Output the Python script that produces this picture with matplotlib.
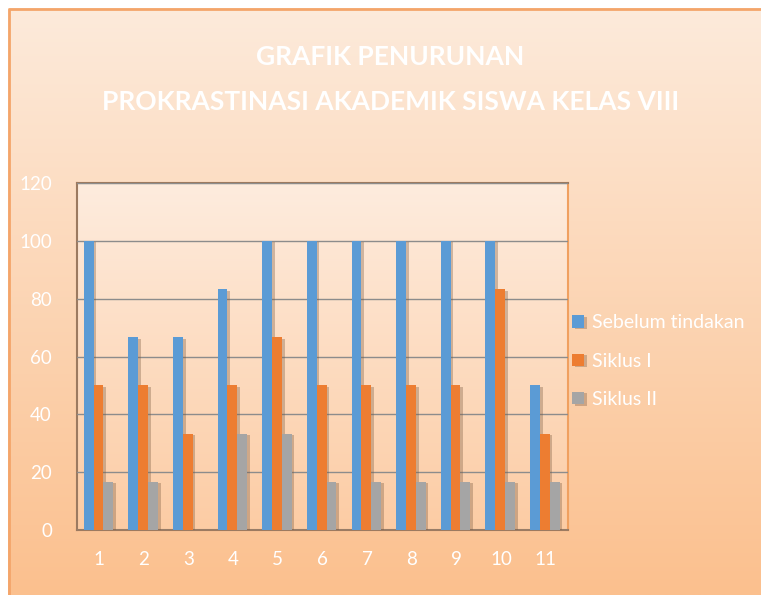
import numpy as np
import matplotlib.pyplot as plt
import matplotlib.patheffects as pe
from matplotlib.patches import Rectangle

categories = ['1', '2', '3', '4', '5', '6', '7', '8', '9', '10', '11']
sebelum = [100, 66.7, 66.7, 83.3, 100, 100, 100, 100, 100, 100, 50]
siklus1 = [50, 50, 33.3, 50, 66.7, 50, 50, 50, 50, 83.3, 33.3]
siklus2 = [16.7, 16.7, 0, 33.3, 33.3, 16.7, 16.7, 16.7, 16.7, 16.7, 16.7]
series_names = ['Sebelum tindakan', 'Siklus I', 'Siklus II']
yticks = [0, 20, 40, 60, 80, 100, 120]

plt.rcParams['font.family'] = ['Lato', 'DejaVu Sans']


def vgrad(top, bottom, n=256):
    t = np.linspace(0, 1, n)[:, None]
    top = np.array(top) / 255.0
    bottom = np.array(bottom) / 255.0
    return (top * (1 - t) + bottom * t)[:, None, :].reshape(n, 1, 3)


fig = plt.figure(figsize=(7.61, 5.95), dpi=100)

# background of the chart area
bg = fig.add_axes([0, 0, 1, 1])
bg.imshow(vgrad((253, 235, 220), (251, 192, 142)), aspect='auto',
          extent=[0, 1, 0, 1], zorder=0)
bg.set_xlim(0, 1)
bg.set_ylim(0, 1)
bg.axis('off')
bg.add_patch(Rectangle((0, 0), 8 / 761, 1, facecolor='white', edgecolor='none', zorder=1))
bg.add_patch(Rectangle((0, 1 - 8 / 595), 1, 8 / 595, facecolor='white', edgecolor='none', zorder=1))
bg.plot([9 / 761, 9 / 761, 1], [0, 1 - 9 / 595, 1 - 9 / 595], color='#f4a56a', lw=2, zorder=2)

ax = fig.add_axes([77 / 761, 65 / 595, 491 / 761, 347 / 595])
ax.imshow(vgrad((254, 236, 222), (252, 204, 164)), aspect='auto',
          extent=[-0.5, len(categories) - 0.5, 0, 120], zorder=0)

x = np.arange(len(categories))
w = 0.22
colors = ['#5b9bd5', '#ed7d31', '#a5a5a5']
shadow = [pe.SimplePatchShadow(offset=(2, -1), shadow_rgbFace='#7a5a40', alpha=0.35), pe.Normal()]
for i, (vals, col, name) in enumerate(zip([sebelum, siklus1, siklus2], colors, series_names)):
    bars = ax.bar(x + (i - 1) * w - 0.02, vals, width=w, color=col, label=name, zorder=3)
    for b in bars:
        b.set_path_effects(shadow)

ax.set_xlim(-0.5, len(categories) - 0.5)
ax.set_ylim(0, 120)
ax.set_yticks(yticks)
ax.set_xticks(x)
ax.set_xticklabels(categories)
ax.yaxis.grid(True, color='#8c8c8c', lw=1)
ax.set_axisbelow(False)
for gl in ax.get_ygridlines():
    gl.set_zorder(1)
ax.tick_params(axis='both', length=0, colors='white', labelsize=13.5)
ax.tick_params(axis='x', pad=15)
ax.tick_params(axis='y', pad=18)
for s in ['left', 'bottom', 'top']:
    ax.spines[s].set_color('#9c7a60')
    ax.spines[s].set_linewidth(1.5)
ax.spines['right'].set_color('#f0a060')
ax.spines['right'].set_linewidth(1.5)

fig.text(0.513, 0.904, 'GRAFIK PENURUNAN', color='white', fontsize=19,
         fontweight='bold', ha='center', va='center')
fig.text(0.513, 0.828, 'PROKRASTINASI AKADEMIK SISWA KELAS VIII', color='white',
         fontsize=19, fontweight='bold', ha='center', va='center')

leg = fig.legend(loc='center left', bbox_to_anchor=(0.752, 0.393), frameon=False,
                 fontsize=14, labelspacing=1.1, handlelength=0.6, handleheight=0.6,
                 handletextpad=0.4, borderaxespad=0, borderpad=0)
for t in leg.get_texts():
    t.set_color('white')

fig.savefig('out.png', dpi=100)
